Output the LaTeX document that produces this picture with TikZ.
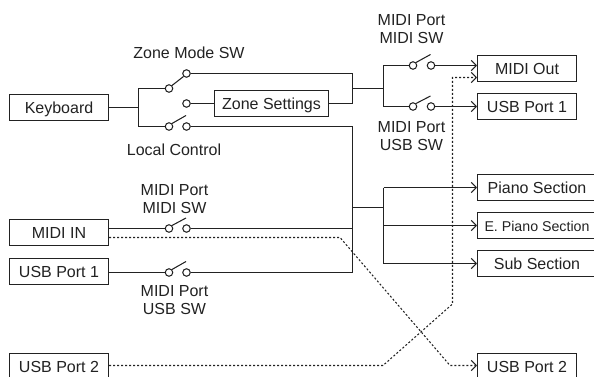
\documentclass[tikz,border=0pt]{standalone}
\usepackage{fontspec}
\setmainfont{Liberation Sans}
\usetikzlibrary{arrows.meta}
\definecolor{ink}{HTML}{222222}
\tikzset{
  wire/.style={draw=ink,line width=1.05pt},
  flow/.style={wire,-{Straight Barb[length=5pt,width=10.5pt,line width=1.05pt]}},
  dots/.style={flow,dash pattern=on 2pt off 2pt},
  box/.style={draw=ink,line width=1.05pt,fill=white,inner sep=0pt,minimum width=99pt,minimum height=26pt,text=ink,text height=11.5pt,text depth=0pt,font=\fontsize{16}{18}\selectfont},
  widebox/.style={box,minimum width=119pt},
  contact/.style={circle,draw=ink,line width=1.05pt,fill=white,inner sep=0pt,minimum size=7.5pt},
  lbl/.style={inner sep=0pt,align=center,text=ink,font=\fontsize{16}{18}\selectfont},
}
\begin{document}
\begin{tikzpicture}[x=1pt,y=-1pt]
\path[use as bounding box] (0,0) rectangle (594,377);
\clip (0,0) rectangle (594,377);
% boxes
\node[box] (kb) at (59,107.5) {Keyboard};
\node[box,minimum width=114pt] (zs) at (271.5,103.5) {Zone Settings};
\node[box] (mo) at (527,68.5) {MIDI Out};
\node[box] (uo) at (527,106.5) {USB Port 1};
\node[widebox] (ps) at (537,187.5) {Piano Section};
\node[widebox,font=\fontsize{14.2}{16}\selectfont] (es) at (537,225.5) {E. Piano Section};
\node[widebox] (ss) at (537,263.5) {Sub Section};
\node[box] (mi) at (59,232.5) {MIDI IN};
\node[box] (ui) at (59,271.5) {USB Port 1};
\node[box] (pl) at (59,366.5) {USB Port 2};
\node[box] (pr) at (527,366.5) {USB Port 2};
% contacts
\node[contact] (za) at (169,88.5) {};
\node[contact] (zb) at (186.5,73.5) {};
\node[contact] (zc) at (186.5,103.5) {};
\node[contact] (la) at (169,126.5) {};
\node[contact] (lb) at (186.5,126.5) {};
\node[contact] (ma) at (413,65.5) {};
\node[contact] (mb) at (431,65.5) {};
\node[contact] (na) at (413,106.5) {};
\node[contact] (nb) at (431,106.5) {};
\node[contact] (ia) at (169,228.5) {};
\node[contact] (ib) at (186.5,228.5) {};
\node[contact] (ja) at (169,272.5) {};
\node[contact] (jb) at (186.5,272.5) {};
% free junctions
\coordinate (k) at (138.5,107.5);
\coordinate (t1) at (352.5,73.5);
\coordinate (t2) at (352.5,103.5);
\coordinate (t3) at (352.5,88.5);
\coordinate (o) at (383.5,88.5);
\coordinate (l1) at (352.5,126.5);
\coordinate (l2) at (352.5,272.5);
\coordinate (l3) at (352.5,207.5);
\coordinate (s) at (383.5,207.5);
% solid wires
\draw[wire] (kb.east) -- (k);
\draw[wire] (za.west) -- (138.5,88.5) -- (138.5,126.5) -- (la.west);
\draw[wire] (zb.east) -- (t1) -- (t2) -- (zs.east);
\draw[wire] (zc.east) -- (zs.west);
\draw[wire] (t3) -- (o);
\draw[wire] (ma.west) -- (383.5,65.5) -- (383.5,106.5) -- (na.west);
\draw[flow] (mb.east) -- (mo.west |- mb.east);
\draw[flow] (nb.east) -- (uo.west |- nb.east);
\draw[wire] (lb.east) -- (l1) -- (l2) -- (jb.east);
\draw[wire] (ib.east) -- (352.5,228.5);
\draw[wire] (mi.east |- ia.west) -- (ia.west);
\draw[wire] (ui.east |- ja.west) -- (ja.west);
\draw[wire] (l3) -- (s);
\draw[wire] (383.5,187.5) -- (383.5,263.5);
\draw[flow] (383.5,187.5) -- (ps.west |- 383.5,187.5);
\draw[flow] (383.5,225.5) -- (es.west |- 383.5,225.5);
\draw[flow] (383.5,263.5) -- (ss.west |- 383.5,263.5);
% switch arms
\draw[wire] (za.north east) -- (zb.south west);
\draw[wire] (la.north east) -- (186,115.5);
\draw[wire] (ma.north east) -- (430.5,54.5);
\draw[wire] (na.north east) -- (430.5,96);
\draw[wire] (ia.north east) -- (186,218);
\draw[wire] (ja.north east) -- (186,261.5);
% dotted lines
\draw[dots] (pl.east |- 108,365.5) -- (383,365.5) -- (452.5,304) -- (452.5,77.5) -- (mo.west |- 452.5,77.5);
\draw[dots] (mi.east |- 108,237.5) -- (340,237.5) -- (450,365.5) -- (pr.west |- 450,365.5);
% labels
\node[lbl] (t_z) at (189,52.5) {Zone Mode SW};
\node[lbl] (t_l) at (174,149.5) {Local Control};
\node[lbl] (t_a) at (411.5,29.5) {MIDI Port\\MIDI SW};
\node[lbl] (t_b) at (411.5,136) {MIDI Port\\USB SW};
\node[lbl] (t_c) at (174.5,199) {MIDI Port\\MIDI SW};
\node[lbl] (t_d) at (174.5,300) {MIDI Port\\USB SW};
\end{tikzpicture}
\end{document}
